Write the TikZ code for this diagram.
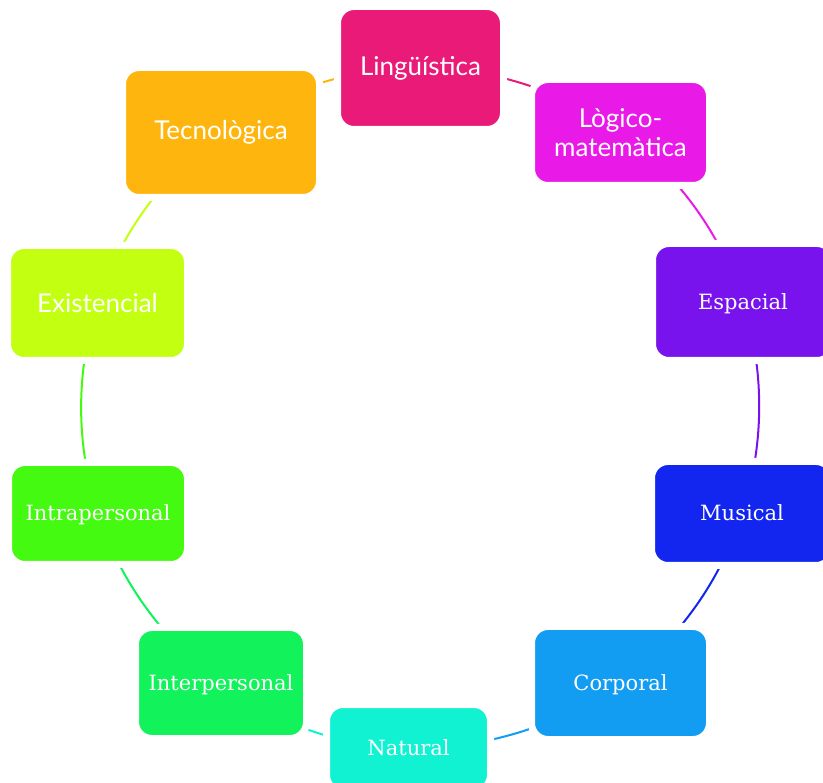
\documentclass[tikz,border=0pt]{standalone}
\usepackage{fontspec}
\setmainfont{DejaVu Serif}
\newfontfamily\sansf{Lato}
\pgfdeclarelayer{background}
\pgfsetlayers{background,main}
\definecolor{cling}{HTML}{E91A78}
\definecolor{clogic}{HTML}{E91AE8}
\definecolor{cesp}{HTML}{7913EE}
\definecolor{cmus}{HTML}{1226EF}
\definecolor{ccorp}{HTML}{129CF2}
\definecolor{cnat}{HTML}{11F2D2}
\definecolor{cinter}{HTML}{11F25B}
\definecolor{cintra}{HTML}{44FA10}
\definecolor{cexist}{HTML}{C3FF10}
\definecolor{ctecn}{HTML}{FEB60E}
\begin{document}
\begin{tikzpicture}[x=1pt,y=-1pt,
  box/.style={rectangle, rounded corners=16.5pt, draw=white, line width=7pt, text=white, inner sep=0pt, align=center},
  sbox/.style={box, font=\sansf\fontsize{26}{29.5}\selectfont},
  rbox/.style={box, font=\fontsize{21}{24}\selectfont, text height=15pt, text depth=0pt},
  conn/.style={line width=2pt},
  arcc/.style={bend left=18, looseness=0.87}]
\useasboundingbox (0,0) rectangle (823,783);
\node[sbox, fill=cling, minimum width=166pt, minimum height=123pt] (ling) at (420.5,68) {Lingüística};
\node[sbox, fill=clogic, minimum width=178pt, minimum height=106pt] (logic) at (620.5,132.5) {Lògico-\\matemàtica};
\node[rbox, fill=cesp, minimum width=181pt, minimum height=117pt] (esp) at (743,302) {Espacial};
\node[rbox, fill=cmus, minimum width=181pt, minimum height=104pt] (mus) at (742,513.5) {Musical};
\node[rbox, fill=ccorp, minimum width=178pt, minimum height=113pt] (corp) at (620.5,683) {Corporal};
\node[rbox, fill=cnat, minimum width=164pt, minimum height=87pt] (nat) at (408.5,748) {Natural};
\node[rbox, fill=cinter, minimum width=171pt, minimum height=111pt] (inter) at (221,683) {Interpersonal};
\node[rbox, fill=cintra, minimum width=179pt, minimum height=102pt] (intra) at (98,513.5) {Intrapersonal};
\node[sbox, fill=cexist, minimum width=180pt, minimum height=115pt] (exist) at (97.5,303) {Existencial};
\node[sbox, fill=ctecn, minimum width=197pt, minimum height=130pt] (tecn) at (221,132.5) {Tecnològica};
\begin{pgfonlayer}{background}
\draw[conn, cling] (ling.center) to[arcc] (logic.center);
\draw[conn, clogic] (logic.center) to[arcc] (esp.center);
\draw[conn, cesp] (esp.center) to[arcc] (mus.center);
\draw[conn, cmus] (mus.center) to[arcc] (corp.center);
\draw[conn, ccorp] (corp.center) to[arcc] (nat.center);
\draw[conn, cnat] (nat.center) to[arcc] (inter.center);
\draw[conn, cinter] (inter.center) to[arcc] (intra.center);
\draw[conn, cintra] (intra.center) to[arcc] (exist.center);
\draw[conn, cexist] (exist.center) to[arcc] (tecn.center);
\draw[conn, ctecn] (tecn.center) to[arcc] (ling.center);
\end{pgfonlayer}
\end{tikzpicture}
\end{document}
